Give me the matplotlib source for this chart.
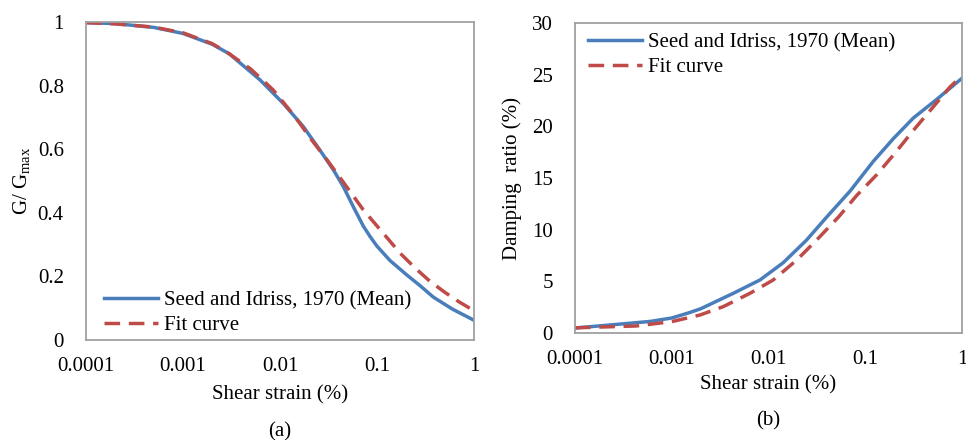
import matplotlib
matplotlib.use('Agg')
import matplotlib.pyplot as plt

plt.rcParams['font.family'] = ['Liberation Serif', 'DejaVu Serif']
plt.rcParams['mathtext.fontset'] = 'custom'
plt.rcParams['mathtext.rm'] = 'Liberation Serif'
plt.rcParams['mathtext.it'] = 'Liberation Serif'

# Modulus reduction: shear strain (%) vs G/Gmax
strain_g_seed = [0.0001, 0.0002, 0.0005, 0.001, 0.002, 0.003, 0.00622, 0.0108, 0.0174, 0.0258,
                 0.0355, 0.045, 0.057, 0.0723, 0.085, 0.1, 0.136, 0.202, 0.28, 0.38, 0.6, 1.0]
g_seed = [0.998, 0.995, 0.983, 0.964, 0.93, 0.90, 0.818, 0.744, 0.671, 0.597,
          0.535, 0.482, 0.419, 0.358, 0.325, 0.295, 0.25, 0.205, 0.17, 0.135, 0.097, 0.062]
strain_g_fit = [0.0001, 0.0002, 0.0005, 0.001, 0.002, 0.003, 0.005, 0.00853, 0.0143, 0.0212,
                0.0315, 0.0486, 0.0723, 0.112, 0.173, 0.25, 0.35, 0.5, 0.7, 1.0]
g_fit = [0.998, 0.994, 0.984, 0.966, 0.932, 0.90, 0.852, 0.786, 0.702, 0.629,
         0.561, 0.482, 0.409, 0.341, 0.273, 0.225, 0.185, 0.15, 0.12, 0.092]

# Damping: shear strain (%) vs damping ratio (%)
strain_d_seed = [0.0001, 0.0003, 0.0006, 0.001, 0.0015, 0.002, 0.00433, 0.00817, 0.0142, 0.0248,
                 0.0398, 0.07, 0.121, 0.195, 0.314, 0.547, 1.0]
d_seed = [0.48, 0.87, 1.12, 1.45, 1.95, 2.35, 3.84, 5.13, 6.8, 9.0,
          11.2, 13.75, 16.6, 18.8, 20.8, 22.6, 24.65]
strain_d_fit = [0.0001, 0.00043, 0.001, 0.00196, 0.00341, 0.00644, 0.0112, 0.0196, 0.0315, 0.0527,
                0.0815, 0.131, 0.203, 0.314, 0.486, 0.751, 1.0]
d_fit = [0.5, 0.68, 1.1, 1.74, 2.55, 3.84, 5.13, 7.06, 9.0, 11.2,
         13.3, 15.3, 17.4, 19.6, 21.7, 23.8, 24.9]

xticks = [0.0001, 0.001, 0.01, 0.1, 1]
xtick_labels = ['0.0001', '0.001', '0.01', '0.1', '1']

blue = '#4a7ebb'
red = '#be4b48'
fs = 15
lw = 2.5
dash = (0, (4.5, 2.5))

fig = plt.figure(figsize=(9.66, 4.4), dpi=100)
ax1 = fig.add_axes([0.089, 0.2273, 0.4017, 0.7227])
ax2 = fig.add_axes([0.5952, 0.2432, 0.4006, 0.7045])

for ax in (ax1, ax2):
    ax.set_xscale('log')
    ax.set_xlim(0.0001, 1)
    ax.set_xticks(xticks)
    ax.set_xticklabels(xtick_labels)
    ax.minorticks_off()
    ax.tick_params(length=0, labelsize=fs, pad=12)
    for s in ax.spines.values():
        s.set_color('#a0a0a0')
        s.set_linewidth(1.3)

ax1.plot(strain_g_seed, g_seed, color=blue, lw=lw, label='Seed and Idriss, 1970 (Mean)')
ax1.plot(strain_g_fit, g_fit, color=red, lw=lw, ls=dash, label='Fit curve')
ax1.set_ylim(0, 1)
ax1.set_yticks([0, 0.2, 0.4, 0.6, 0.8, 1])
ax1.set_yticklabels(['0', '0.2', '0.4', '0.6', '0.8', '1'])
ax1.tick_params(axis='y', pad=16)
ax1.set_xlabel('Shear strain (%)', fontsize=fs, labelpad=7)
ax1.set_ylabel(r'G/ G$_{\mathrm{max}}$', fontsize=fs, labelpad=4)
ax1.legend(loc='lower left', bbox_to_anchor=(-0.003, -0.043), frameon=False,
           fontsize=fs, handlelength=2.6, handletextpad=0.3, labelspacing=0.25)
ax1.text(0.5, -0.29, '(a)', transform=ax1.transAxes, ha='center', va='center', fontsize=fs)

ax2.plot(strain_d_seed, d_seed, color=blue, lw=lw, label='Seed and Idriss, 1970 (Mean)')
ax2.plot(strain_d_fit, d_fit, color=red, lw=lw, ls=dash, label='Fit curve')
ax2.set_ylim(0, 30)
ax2.set_yticks([0, 5, 10, 15, 20, 25, 30])
ax2.tick_params(axis='y', pad=16)
ax2.set_xlabel('Shear strain (%)', fontsize=fs, labelpad=5)
ax2.set_ylabel('Damping  ratio (%)', fontsize=fs, labelpad=7)
ax2.legend(loc='upper left', bbox_to_anchor=(-0.015, 1.03), frameon=False,
           fontsize=fs, handlelength=2.6, handletextpad=0.3, labelspacing=0.25)
ax2.text(0.5, -0.285, '(b)', transform=ax2.transAxes, ha='center', va='center', fontsize=fs)

fig.savefig('out.png', dpi=100)
